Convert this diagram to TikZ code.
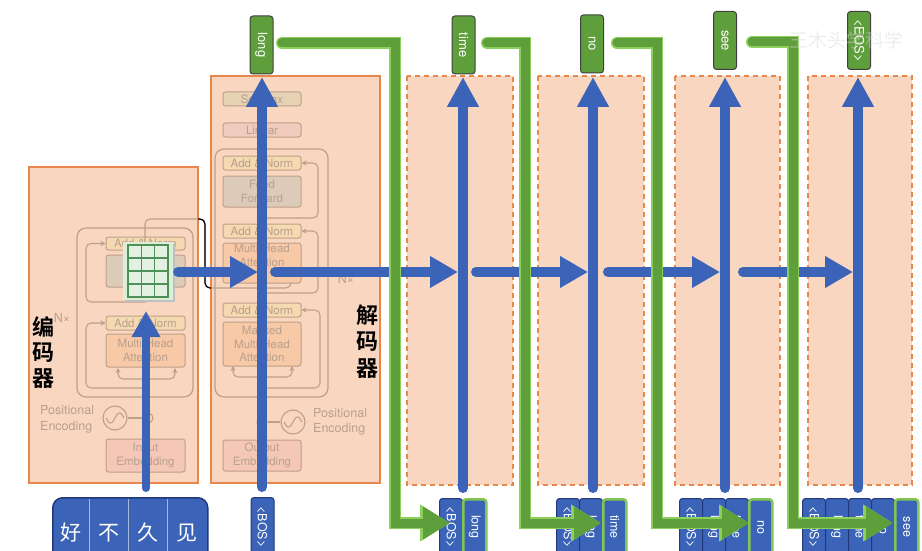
\documentclass[tikz,border=0pt]{standalone}
\usepackage{fontspec}
\setmainfont{TeX Gyre Heros}
\newfontfamily\cjk{Noto Sans CJK SC}[BoldFont={Noto Sans CJK SC Bold}]
\usetikzlibrary{arrows.meta}
\definecolor{peach}{HTML}{F9D6C0}
\definecolor{orgline}{HTML}{E8874B}
\definecolor{bluea}{HTML}{3B63B8}
\definecolor{blueb}{HTML}{22397A}
\definecolor{greena}{HTML}{5E9E3B}
\definecolor{greenb}{HTML}{8CCF5A}
\definecolor{flinec}{HTML}{BE9F88}
\definecolor{ftext}{HTML}{B9A08E}
\definecolor{fan}{HTML}{F5D9B1}
\definecolor{fff}{HTML}{DDCBB9}
\definecolor{fmha}{HTML}{F7C9A6}
\definecolor{femb}{HTML}{F5C7B7}
\definecolor{fsoft}{HTML}{E7D3B4}
\definecolor{flin}{HTML}{F0CABC}
\definecolor{gridfill}{HTML}{DCEED6}
\definecolor{cellfill}{HTML}{E2F1E2}
\definecolor{cellline}{HTML}{4E9058}
\begin{document}
\begin{tikzpicture}[x=1pt,y=-1pt,
  panel/.style={draw=orgline, fill=peach, line width=1.2pt},
  dpanel/.style={draw=orgline, fill=peach, line width=1.3pt, dash pattern=on 5pt off 4pt},
  fbox/.style={draw=flinec, rounded corners=2.5pt, line width=1pt, inner sep=0pt, text=ftext,
    font=\fontsize{11.5}{13.5}\selectfont, align=center, minimum width=79pt},
  fblock/.style={draw=flinec, line width=1.2pt, rounded corners=9pt},
  fconn/.style={draw=flinec, line width=1.1pt, rounded corners=5pt},
  farr/.style={fconn, -{Stealth[length=5pt,width=5pt]}},
  ftxt/.style={text=ftext, font=\fontsize{12.5}{15}\selectfont, inner sep=0pt},
  bluearrow/.style={draw=bluea, line width=10pt, line cap=round, -{Triangle[length=30pt,width=30pt]}},
  bluehor/.style={draw=bluea, line width=10pt, line cap=round, -{Triangle[length=28pt,width=30pt]}},
  greenA/.style={draw=greenb, line width=12pt, line cap=round, -{Triangle[length=30pt,width=35pt]}},
  greenB/.style={draw=greena, line width=9pt, line cap=round, -{Triangle[length=27pt,width=31pt]}},
  outbox/.style={draw=black!75, fill=greena, rounded corners=3pt, line width=1pt, minimum width=23pt, minimum height=58pt, inner sep=0pt},
  outtxt/.style={text=white, rotate=-90, font=\fontsize{13}{13}\selectfont, inner sep=0pt},
  tokcell/.style={draw=blueb, fill=bluea, rounded corners=3pt, line width=1pt, minimum width=23pt, minimum height=64pt, inner sep=0pt, anchor=north west},
  newcell/.style={tokcell, draw=greenb!80!greena, line width=2.5pt},
  celltxt/.style={text=white, rotate=-90, font=\fontsize{12.5}{13}\selectfont, inner sep=0pt},
  zh/.style={font=\cjk\bfseries\fontsize{22}{22}\selectfont, text=black, inner sep=0pt},
  zhw/.style={font=\cjk\fontsize{21}{21}\selectfont, text=white, inner sep=0pt}
]
\useasboundingbox (0,0) rectangle (922,551);
\clip (0,0) rectangle (922,551);
\fill[white] (0,0) rectangle (922,551);

% panels
\path[panel] (29,167) rectangle (198,483);
\path[panel] (211,76) rectangle (380,483);
\path[dpanel] (407,76) rectangle (513,485);
\path[dpanel] (538,76) rectangle (644,485);
\path[dpanel] (675,76) rectangle (780,485);
\path[dpanel] (808,76) rectangle (912,485);

% ---------- encoder (faded) ----------
\draw[fblock] (77,228) rectangle (193,397);
\node[fbox, fill=fan, minimum height=13pt] (eAN2) at (145.5,243.5) {Add \& Norm};
\node[fbox, fill=fff, minimum height=32pt] (eFF) at (145.5,271) {};
\node[fbox, fill=fan, minimum height=14pt] (eAN1) at (145.5,323) {Add \& Norm};
\node[fbox, fill=fmha, minimum height=33pt] (eMHA) at (145.5,350.5) {Multi-Head\\Attention};
\node[fbox, fill=femb, minimum height=33pt] (eEmb) at (145.5,455.5) {Input\\Embedding};
\draw[farr] (146,302) -- (86,302) -- (86,243.5) -- (eAN2.west);
\draw[farr] (146,388) -- (86,388) -- (86,323) -- (eAN1.west);
\draw[farr] (146,379) -| (118,368);
\draw[farr] (146,379) -| (175,368);
\node[ftxt] (eNx) at (62,318) {N×};
\node[ftxt, anchor=west] (ePos1) at (40,410) {Positional};
\node[ftxt, anchor=west] (ePos2) at (40,427) {Encoding};
\node[draw=flinec, line width=1.1pt, circle, minimum size=24pt, inner sep=0pt] (eSin) at (115,418) {};
\draw[flinec, line width=1.1pt] plot[domain=-9:9, samples=25] ({115+\x},{418-5*sin(20*\x)});
\node[draw=flinec, line width=1.1pt, circle, minimum size=10pt, inner sep=0pt] (ePlus) at (148,418) {};
\draw[fconn] (eSin.east) -- (ePlus.west);

% encoder output line to decoder
\coordinate (encTop) at (145,242);
\draw[fconn] (encTop) -- (145,219) -- (205,219) -- (205,288) -- (291,288) -- (291,283);
\draw[black, line width=1.2pt, rounded corners=5pt] (198,219) -- (205,219) -- (205,288) -- (211,288);

% ---------- decoder (faded) ----------
\draw[fblock] (215,149) rectangle (328,397);
\node[fbox, fill=fsoft, minimum height=14pt, minimum width=78pt] (dSoft) at (262,99) {Softmax};
\node[fbox, fill=flin, minimum height=14pt, minimum width=78pt] (dLin) at (262,130) {Linear};
\node[fbox, fill=fan, minimum height=14pt, minimum width=78pt] (dAN3) at (262,163) {Add \& Norm};
\node[fbox, fill=fff, minimum height=31pt, minimum width=78pt] (dFF) at (262,191.5) {Feed\\Forward};
\node[fbox, fill=fan, minimum height=14pt, minimum width=78pt] (dAN2) at (262,231) {Add \& Norm};
\node[fbox, fill=fmha, minimum height=40pt, minimum width=78pt] (dMHA) at (262,263) {Multi-Head\\Attention\\[2pt]};
\node[fbox, fill=fan, minimum height=14pt, minimum width=78pt] (dAN1) at (262,310) {Add \& Norm};
\node[fbox, fill=fmha, minimum height=44pt, minimum width=78pt] (dMMHA) at (262,344) {Masked\\Multi-Head\\Attention};
\node[fbox, fill=femb, minimum height=31pt, minimum width=78pt] (dEmb) at (262,455.5) {Output\\Embedding};
\draw[farr] (262,218) -- (318,218) -- (318,163) -- (dAN3.east);
\draw[farr] (262,293) -- (318,293) -- (318,231) -- (dAN2.east);
\draw[farr] (262,388) -- (320,388) -- (320,310) -- (dAN1.east);
\draw[farr] (262,377) -| (233,366);
\draw[farr] (262,377) -| (292,366);
\node[ftxt] (dNx) at (346,279) {N×};
\node[ftxt, anchor=west] (dPos1) at (313,413) {Positional};
\node[ftxt, anchor=west] (dPos2) at (313,429) {Encoding};
\node[draw=flinec, line width=1.1pt, circle, minimum size=24pt, inner sep=0pt] (dSin) at (293,422) {};
\draw[flinec, line width=1.1pt] plot[domain=-9:9, samples=25] ({293+\x},{422-5*sin(20*\x)});
\node[draw=flinec, line width=1.1pt, circle, minimum size=10pt, inner sep=0pt] (dPlus) at (262,422) {};
\draw[fconn] (dSin.west) -- (dPlus.east);

% ---------- matrix grid ----------
\fill[black!25] (125,244) rectangle (175,302);
\node[fill=gridfill, minimum width=50pt, minimum height=58pt, inner sep=0pt] (grid) at (148,271) {};
\foreach \i in {0,1,2}{
  \foreach \j in {0,1,2,3}{
    \draw[cellline, fill=cellfill, line width=1.5pt] ({128+\i*13.3},{245+\j*13}) rectangle ({128+(\i+1)*13.3},{245+(\j+1)*13});
  }
}

% ---------- labels ----------
\node[zh] (enc1) at (43,327) {编};
\node[zh] (enc2) at (43,353) {码};
\node[zh] (enc3) at (43,379) {器};
\node[zh] (dec1) at (367,315) {解};
\node[zh] (dec2) at (367,342) {码};
\node[zh] (dec3) at (367,369) {器};

% ---------- input tokens ----------
\node[draw=blueb, fill=bluea, rounded corners=10pt, line width=1.5pt, minimum width=155pt, minimum height=75pt, anchor=north west, inner sep=0pt] (tok) at (52,497) {};
\draw[white!55!bluea, line width=1pt] (89,499) -- (89,551);
\draw[white!55!bluea, line width=1pt] (128,499) -- (128,551);
\draw[white!55!bluea, line width=1pt] (167,499) -- (167,551);
\node[zhw] (t1) at (71,533) {好};
\node[zhw] (t2) at (109,533) {不};
\node[zhw] (t3) at (148,533) {久};
\node[zhw] (t4) at (187,533) {见};

% ---------- decoder input <BOS> ----------
\node[tokcell] (bos0) at (250.5,497) {};
\node[celltxt] at (262,527) {<BOS>};

% ---------- bottom token columns ----------
\node[tokcell] (c11) at (439,498) {};
\node[newcell] (c12) at (462,498) {};
\node[celltxt] at (c11.center|-0,527) {<BOS>};
\node[celltxt] at (c12.center|-0,527) {long};

\node[tokcell] (c21) at (556,498) {};
\node[tokcell] (c22) at (579,498) {};
\node[newcell] (c23) at (602,498) {};
\node[celltxt] at (c21.center|-0,527) {<BOS>};
\node[celltxt] at (c22.center|-0,527) {long};
\node[celltxt] at (c23.center|-0,527) {time};

\node[tokcell] (c31) at (679,498) {};
\node[tokcell] (c32) at (702,498) {};
\node[tokcell] (c33) at (725,498) {};
\node[newcell] (c34) at (748,498) {};
\node[celltxt] at (c31.center|-0,527) {<BOS>};
\node[celltxt] at (c32.center|-0,527) {long};
\node[celltxt] at (c33.center|-0,527) {time};
\node[celltxt] at (c34.center|-0,527) {no};

\node[tokcell] (c41) at (802,498) {};
\node[tokcell] (c42) at (825,498) {};
\node[tokcell] (c43) at (848,498) {};
\node[tokcell] (c44) at (871,498) {};
\node[newcell] (c45) at (894,498) {};
\node[celltxt] at (c41.center|-0,527) {<BOS>};
\node[celltxt] at (c42.center|-0,527) {long};
\node[celltxt] at (c43.center|-0,527) {time};
\node[celltxt] at (c44.center|-0,527) {no};
\node[celltxt] at (c45.center|-0,527) {see};

% ---------- outputs on top ----------
\node[outbox] (o1) at (261.5,45) {};
\node[outtxt] at (o1.center) {long};
\node[outbox] (o2) at (463.5,45) {};
\node[outtxt] at (o2.center) {time};
\node[outbox] (o3) at (592,44) {};
\node[outtxt] at (o3.center) {no};
\node[outbox] (o4) at (725,40.5) {};
\node[outtxt] at (o4.center) {see};
\node[outbox] (o5) at (859,40.5) {};
\node[outtxt] at (o5.center) {<EOS>};

% ---------- blue arrows ----------
\coordinate (eIn) at (146,488);
\coordinate (eTip) at (146,311);
\draw[bluearrow, line width=8pt, -{Triangle[length=26pt,width=27pt]}] (eIn) -- (eTip);
\coordinate (gOut) at (178,272);
\coordinate (dHit) at (258,272);
\draw[bluehor] (gOut) -- (dHit);

\coordinate (dIn) at (262,487);
\coordinate (dTip) at (262,77);
\draw[bluearrow] (dIn) -- (dTip);

\foreach \n/\x in {1/463,2/593,3/725,4/858}{
  \coordinate (v\n b) at (\x,488);
  \coordinate (v\n t) at (\x,77);
  \draw[bluearrow] (v\n b) -- (v\n t);
}
\coordinate (h1s) at (275,272); \coordinate (h1e) at (458,272);
\coordinate (h2s) at (476,272); \coordinate (h2e) at (588,272);
\coordinate (h3s) at (608,272); \coordinate (h3e) at (720,272);
\coordinate (h4s) at (743,272); \coordinate (h4e) at (853,272);
\draw[bluehor] (h1s) -- (h1e);
\draw[bluehor] (h2s) -- (h2e);
\draw[bluehor] (h3s) -- (h3e);
\draw[bluehor] (h4s) -- (h4e);

% ---------- green feedback arrows ----------
\coordinate (g1s) at (282,43); \coordinate (g1e) at (450,523);
\coordinate (g2s) at (487,43); \coordinate (g2e) at (601,523);
\coordinate (g3s) at (617,43); \coordinate (g3e) at (749,523);
\coordinate (g4s) at (752,42); \coordinate (g4e) at (893,523);
\foreach \s in {greenA,greenB}{
  \draw[\s] (g1s) -- (395,43) -- (395,523) -- (g1e);
  \draw[\s] (g2s) -- (525,43) -- (525,523) -- (g2e);
  \draw[\s] (g3s) -- (657,43) -- (657,523) -- (g3e);
  \draw[\s] (g4s) -- (793,42) -- (793,523) -- (g4e);
}

% watermark
\node[font=\cjk\fontsize{19}{19}\selectfont, text=gray!30, opacity=0.45, anchor=west] (wm) at (786,40) {王木头学科学};
\end{tikzpicture}
\end{document}
